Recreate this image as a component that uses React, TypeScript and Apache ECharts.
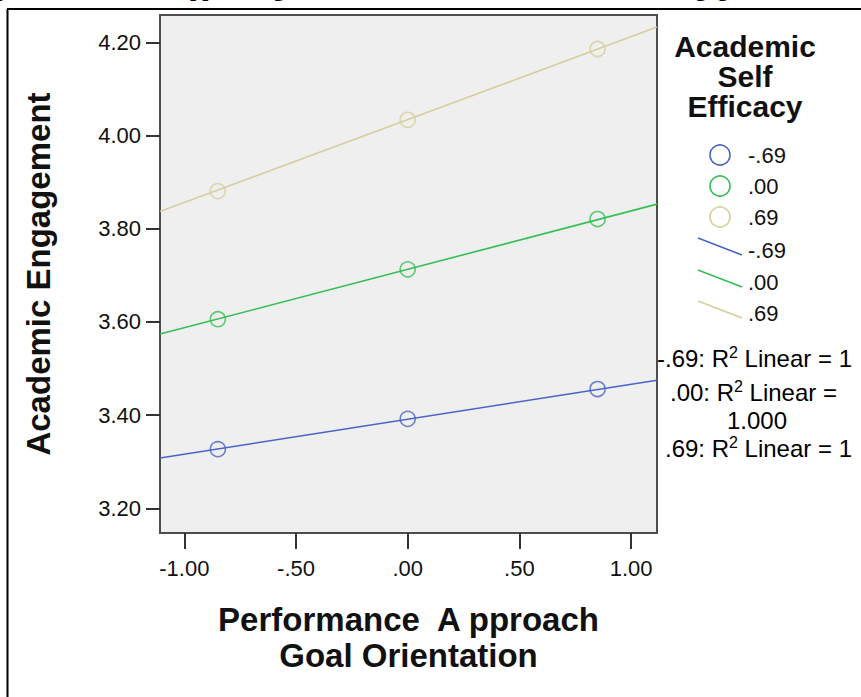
import React, { useEffect, useRef } from "react";
import * as echarts from "echarts";

// ---- data ----
const groupNames = ["-.69", ".00", ".69"];
const pointX = [-0.85, 0.0, 0.85];
const blueValues = [3.327, 3.392, 3.456];
const greenValues = [3.606, 3.713, 3.821];
const tanValues = [3.881, 4.034, 4.186];
const fitX = [-1.109, 1.116];
const blueFit = [3.308, 3.475];
const greenFit = [3.574, 3.853];
const tanFit = [3.837, 4.233];
const xTicks = [-1, -0.5, 0, 0.5, 1];
const yTicks = [3.2, 3.4, 3.6, 3.8, 4.0, 4.2];
const rSquaredShown = ["1", "1.000", "1"];

const colors = ["#4a63c6", "#35bf52", "#d5cf9c"];
const FONT = '"Liberation Sans", Arial, sans-serif';

const fmtX = (v: number) => {
  const s = Math.abs(v).toFixed(2);
  const t = Math.abs(v) < 1 ? s.replace(/^0/, "") : s;
  return (v < 0 ? "-" : "") + t;
};

export default function App() {
  const ref = useRef<HTMLDivElement>(null);
  useEffect(() => {
    if (!ref.current) return;
    const chart = echarts.init(ref.current, null, { renderer: "svg" });
    const valueSets = [blueValues, greenValues, tanValues];
    const fitSets = [blueFit, greenFit, tanFit];

    const scatterSeries = valueSets.map((vals, i) => ({
      type: "scatter",
      name: "pts" + groupNames[i],
      data: pointX.map((x, j) => [x, vals[j]]),
      symbol: "circle",
      symbolSize: 15,
      itemStyle: { color: "transparent", borderColor: colors[i], borderWidth: 1.6 },
      z: 3,
    }));
    const lineSeries = fitSets.map((vals, i) => ({
      type: "line",
      name: "fit" + groupNames[i],
      data: fitX.map((x, j) => [x, vals[j]]),
      showSymbol: false,
      symbol: "none",
      lineStyle: { color: colors[i], width: 1.6 },
      z: 2,
    }));

    const legendCircleY = [155, 186, 217];
    const legendLineY = [246, 278, 309];
    const legendGraphics: any[] = [];
    groupNames.forEach((n, i) => {
      legendGraphics.push({
        type: "circle",
        shape: { cx: 720, cy: legendCircleY[i], r: 10 },
        style: { fill: "transparent", stroke: colors[i], lineWidth: 1.6 },
      });
      legendGraphics.push({
        type: "text",
        x: 748,
        y: legendCircleY[i],
        style: { text: n, font: `22px ${FONT}`, fill: "#111", verticalAlign: "middle" },
      });
      legendGraphics.push({
        type: "line",
        shape: { x1: 698, y1: legendLineY[i] - 8, x2: 742, y2: legendLineY[i] + 9 },
        style: { stroke: colors[i], lineWidth: 1.6 },
      });
      legendGraphics.push({
        type: "text",
        x: 748,
        y: legendLineY[i] + 4,
        style: { text: n, font: `22px ${FONT}`, fill: "#111", verticalAlign: "middle" },
      });
    });

    const rich = {
      n: { fontSize: 24, fontFamily: FONT, color: "#111", lineHeight: 27 },
      s: { fontSize: 16, fontFamily: FONT, color: "#111", lineHeight: 16, verticalAlign: "top" },
    };
    const rTexts = [
      { x: 657, y: 358, text: `{n|${groupNames[0]}: R}{s|2}{n| Linear = ${rSquaredShown[0]}}` },
      { x: 670, y: 392, text: `{n|${groupNames[1]}: R}{s|2}{n| Linear =}` },
      { x: 727, y: 420, text: `{n|${rSquaredShown[1]}}` },
      { x: 665, y: 448, text: `{n|${groupNames[2]}: R}{s|2}{n| Linear = ${rSquaredShown[2]}}` },
    ].map((t) => ({
      type: "text",
      x: t.x,
      y: t.y,
      style: { text: t.text, rich, verticalAlign: "middle", textAlign: "left" },
    }));

    const option: any = {
      animation: false,
      backgroundColor: "#ffffff",
      grid: {
        left: 160,
        top: 15,
        width: 497,
        height: 518,
        show: true,
        backgroundColor: "#efefef",
        borderColor: "#4d4d4d",
        borderWidth: 2,
      },
      xAxis: {
        type: "value",
        min: -1.109,
        max: 1.116,
        name: "Performance  A pproach\nGoal Orientation",
        nameLocation: "middle",
        nameGap: 68,
        nameTextStyle: {
          fontSize: 33,
          fontWeight: "bold",
          fontFamily: FONT,
          color: "#111",
          lineHeight: 36,
        },
        splitLine: { show: false },
        axisLine: { show: true, onZero: false, lineStyle: { color: "#4d4d4d", width: 2 } },
        axisTick: {
          show: true,
          length: 16,
          customValues: xTicks,
          lineStyle: { color: "#333", width: 2 },
        },
        axisLabel: {
          customValues: xTicks,
          formatter: (v: number) => fmtX(v),
          fontSize: 22,
          fontFamily: FONT,
          color: "#111",
          margin: 24,
        },
      },
      yAxis: {
        type: "value",
        min: 3.147,
        max: 4.259,
        name: "Academic Engagement",
        nameLocation: "middle",
        nameGap: 105,
        nameTextStyle: {
          fontSize: 33,
          fontWeight: "bold",
          fontFamily: FONT,
          color: "#111",
        },
        splitLine: { show: false },
        axisLine: { show: true, onZero: false, lineStyle: { color: "#4d4d4d", width: 2 } },
        axisTick: {
          show: true,
          length: 14,
          customValues: yTicks,
          lineStyle: { color: "#333", width: 2 },
        },
        axisLabel: {
          customValues: yTicks,
          formatter: (v: number) => v.toFixed(2),
          fontSize: 22,
          fontFamily: FONT,
          color: "#111",
          margin: 19,
        },
      },
      series: [...lineSeries, ...scatterSeries],
      graphic: [
        {
          type: "text",
          x: -33,
          y: -12,
          style: {
            text: "Slope of Performance Approach goal orientation on the levels of Academic Engagement",
            font: 'bold 22px "Liberation Serif", "Times New Roman", serif',
            fill: "#000",
            verticalAlign: "middle",
          },
        },
        { type: "line", shape: { x1: 7, y1: 9, x2: 861, y2: 9 }, style: { stroke: "#000", lineWidth: 2 } },
        { type: "line", shape: { x1: 7.5, y1: 9, x2: 7.5, y2: 697 }, style: { stroke: "#000", lineWidth: 2 } },
        {
          type: "text",
          x: 745,
          y: 31,
          style: {
            text: "Academic\nSelf\nEfficacy",
            font: `bold 30px ${FONT}`,
            lineHeight: 30,
            fill: "#111",
            textAlign: "center",
            verticalAlign: "top",
          },
        },
        ...legendGraphics,
        ...rTexts,
      ],
    };
    chart.setOption(option);
    return () => chart.dispose();
  }, []);
  return (
    <div
      ref={ref}
      style={{ position: "fixed", left: 0, top: 0, width: 861, height: 697 }}
    />
  );
}
